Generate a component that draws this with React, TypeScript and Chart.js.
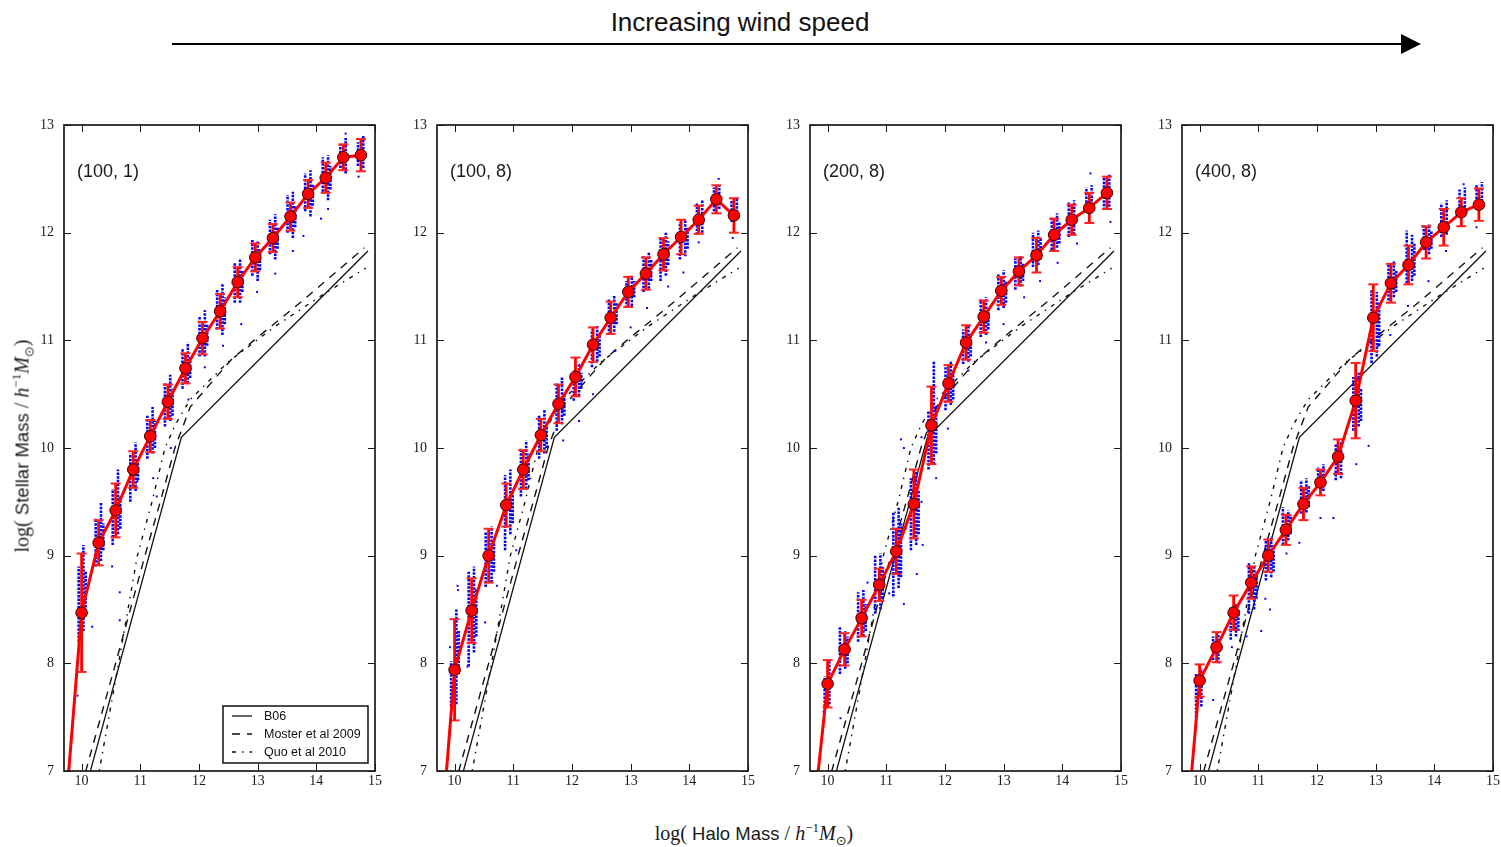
import React, { useEffect, useRef } from "react";
import { Chart, registerables } from "chart.js";

Chart.register(...registerables);

// ---------------- DATA ----------------
const massBins = [9.70, 10.00, 10.29, 10.58, 10.88, 11.17, 11.47, 11.77, 12.06, 12.36, 12.66, 12.96, 13.26, 13.56, 13.86, 14.16, 14.46, 14.76];

const panelLabels = ["(100, 1)", "(100, 8)", "(200, 8)", "(400, 8)"];

const stellar_100_1 = [6.46, 8.47, 9.12, 9.42, 9.80, 10.11, 10.43, 10.74, 11.02, 11.27, 11.54, 11.77, 11.95, 12.15, 12.36, 12.51, 12.70, 12.72];
const err_100_1 = [0, 0.55, 0.21, 0.25, 0.17, 0.15, 0.16, 0.14, 0.15, 0.16, 0.14, 0.13, 0.13, 0.13, 0.13, 0.14, 0.12, 0.15];

const stellar_100_8 = [5.90, 7.94, 8.49, 9.00, 9.47, 9.80, 10.12, 10.41, 10.66, 10.96, 11.21, 11.45, 11.62, 11.80, 11.96, 12.12, 12.31, 12.16];
const err_100_8 = [0, 0.47, 0.30, 0.25, 0.20, 0.18, 0.15, 0.18, 0.18, 0.16, 0.15, 0.14, 0.15, 0.15, 0.16, 0.13, 0.13, 0.16];

const stellar_200_8 = [6.29, 7.81, 8.13, 8.42, 8.73, 9.04, 9.48, 10.21, 10.60, 10.98, 11.22, 11.46, 11.64, 11.79, 11.98, 12.12, 12.23, 12.37];
const err_200_8 = [0, 0.22, 0.15, 0.17, 0.15, 0.21, 0.32, 0.36, 0.17, 0.16, 0.15, 0.13, 0.13, 0.16, 0.15, 0.14, 0.14, 0.15];

const stellar_400_8 = [5.96, 7.84, 8.15, 8.47, 8.75, 9.00, 9.24, 9.48, 9.68, 9.92, 10.44, 11.21, 11.53, 11.70, 11.91, 12.05, 12.19, 12.26];
const err_400_8 = [0, 0.15, 0.14, 0.16, 0.15, 0.15, 0.14, 0.15, 0.12, 0.16, 0.35, 0.31, 0.18, 0.18, 0.15, 0.17, 0.13, 0.15];

// individual galaxies: vertical runs [haloMass, low, high]
const galaxies_100_1 = [
  [9.95, 8.20, 8.90], [10.03, 8.30, 9.10], [10.07, 8.45, 8.85],
  [10.24, 8.90, 9.35], [10.33, 8.95, 9.50], [10.37, 9.05, 9.30],
  [10.53, 9.10, 9.62], [10.62, 9.20, 9.80], [10.66, 9.25, 9.55],
  [10.83, 9.50, 9.95], [10.92, 9.60, 10.05], [10.96, 9.70, 9.90],
  [11.12, 9.90, 10.30], [11.21, 9.95, 10.38], [11.25, 10.00, 10.25],
  [11.42, 10.20, 10.60], [11.51, 10.25, 10.68], [11.55, 10.30, 10.55],
  [11.72, 10.55, 10.92], [11.81, 10.60, 10.98], [11.85, 10.65, 10.85],
  [12.01, 10.85, 11.22], [12.10, 10.85, 11.28], [12.14, 10.95, 11.15],
  [12.31, 11.10, 11.47], [12.40, 11.05, 11.52], [12.44, 11.15, 11.40],
  [12.61, 11.35, 11.72], [12.70, 11.35, 11.75], [12.74, 11.45, 11.65],
  [12.91, 11.60, 11.94], [13.00, 11.55, 11.92], [13.04, 11.65, 11.85],
  [13.21, 11.80, 12.12], [13.30, 11.75, 12.17], [13.34, 11.85, 12.05],
  [13.51, 12.00, 12.35], [13.60, 11.95, 12.38], [13.64, 12.05, 12.25],
  [13.81, 12.20, 12.55], [13.90, 12.15, 12.58], [13.94, 12.25, 12.45],
  [14.11, 12.38, 12.70], [14.20, 12.30, 12.72], [14.24, 12.40, 12.62],
  [14.41, 12.60, 12.82], [14.50, 12.55, 12.88],
  [14.71, 12.62, 12.84], [14.80, 12.60, 12.90],
];
const outliers_100_1 = [
  [9.93, 7.70], [10.18, 8.34], [10.65, 8.66], [10.65, 8.40], [10.52, 8.90], [10.95, 9.69], [11.22, 9.72],
  [11.28, 9.55], [11.52, 10.00], [11.82, 10.45], [12.10, 10.75], [12.41, 10.95], [12.72, 11.15],
  [12.99, 11.45], [13.30, 11.62], [13.60, 11.83], [13.78, 11.97], [14.08, 12.13], [14.20, 12.22],
  [14.50, 12.92], [14.72, 12.52],
];

const galaxies_100_8 = [
  [9.94, 7.60, 8.02], [10.03, 7.62, 8.50], [10.07, 7.90, 8.30],
  [10.24, 7.97, 8.85], [10.33, 8.10, 8.90], [10.37, 8.25, 8.70],
  [10.53, 8.71, 9.22], [10.63, 8.75, 9.27], [10.67, 8.85, 9.15],
  [10.86, 9.05, 9.75], [10.95, 9.20, 9.80], [10.99, 9.30, 9.60],
  [11.13, 9.55, 10.00], [11.22, 9.62, 10.07], [11.26, 9.70, 9.95],
  [11.44, 9.90, 10.30], [11.53, 9.95, 10.35], [11.57, 10.00, 10.20],
  [11.74, 10.16, 10.60], [11.83, 10.22, 10.66], [11.87, 10.30, 10.50],
  [12.03, 10.44, 10.72], [12.12, 10.48, 10.78], [12.16, 10.55, 10.70],
  [12.34, 10.75, 11.10], [12.43, 10.80, 11.14], [12.47, 10.85, 11.05],
  [12.63, 11.05, 11.38], [12.72, 11.08, 11.42], [12.76, 11.15, 11.35],
  [12.93, 11.30, 11.55], [13.02, 11.32, 11.60], [13.06, 11.40, 11.55],
  [13.22, 11.45, 11.78], [13.31, 11.48, 11.82], [13.35, 11.55, 11.75],
  [13.51, 11.55, 11.95], [13.60, 11.60, 12.00], [13.64, 11.70, 11.92],
  [13.84, 11.75, 12.10], [13.93, 11.78, 12.12], [13.97, 11.85, 12.05],
  [14.13, 11.98, 12.27], [14.22, 12.00, 12.30],
  [14.42, 12.20, 12.42], [14.51, 12.22, 12.44],
  [14.72, 12.10, 12.30], [14.81, 12.12, 12.33],
];
const outliers_100_8 = [
  [9.92, 8.15], [10.05, 8.72], [10.06, 8.68], [10.22, 7.97], [10.52, 8.38], [10.72, 8.72], [11.05, 9.05],
  [11.53, 10.10], [11.85, 10.07], [12.12, 10.25], [12.36, 10.50], [12.72, 10.90], [13.00, 11.12],
  [13.28, 11.30], [13.64, 11.50], [13.90, 11.63], [14.16, 11.91], [14.50, 12.50], [14.74, 11.95],
];

const galaxies_200_8 = [
  [9.95, 7.60, 7.88], [10.03, 7.62, 8.02],
  [10.21, 7.90, 8.34], [10.30, 7.95, 8.30], [10.34, 8.00, 8.25],
  [10.52, 8.20, 8.66], [10.61, 8.25, 8.68], [10.65, 8.30, 8.55],
  [10.81, 8.46, 9.00], [10.90, 8.50, 9.02], [10.94, 8.60, 8.90],
  [11.12, 8.62, 9.40], [11.21, 8.70, 9.45], [11.25, 8.80, 9.30],
  [11.42, 9.05, 9.72], [11.51, 9.10, 9.78], [11.55, 9.20, 9.60],
  [11.72, 9.80, 10.35], [11.81, 9.85, 10.80], [11.85, 9.95, 10.40],
  [12.01, 10.35, 10.75], [12.10, 10.40, 10.80], [12.14, 10.45, 10.70],
  [12.31, 10.78, 11.10], [12.40, 10.80, 11.14], [12.44, 10.85, 11.05],
  [12.61, 11.03, 11.38], [12.70, 11.05, 11.40], [12.74, 11.10, 11.30],
  [12.91, 11.28, 11.62], [13.00, 11.30, 11.65], [13.04, 11.35, 11.55],
  [13.20, 11.47, 11.76], [13.29, 11.50, 11.78], [13.33, 11.55, 11.72],
  [13.50, 11.68, 12.00], [13.59, 11.70, 12.02], [13.63, 11.75, 11.95],
  [13.82, 11.84, 12.15], [13.91, 11.86, 12.18], [13.95, 11.90, 12.10],
  [14.11, 11.96, 12.28], [14.20, 11.98, 12.30],
  [14.41, 12.21, 12.42], [14.50, 12.22, 12.44],
  [14.71, 12.21, 12.52], [14.80, 12.24, 12.55],
];
const outliers_200_8 = [
  [9.93, 7.55], [10.22, 7.49], [10.68, 8.75], [11.05, 8.65], [11.30, 8.55], [11.33, 9.25], [11.52, 8.83],
  [11.60, 9.50], [11.62, 9.10], [11.60, 10.10], [11.25, 10.08], [11.30, 10.00], [11.85, 9.72],
  [12.05, 10.18], [12.40, 10.72], [12.70, 10.98], [13.00, 11.15], [13.35, 11.40], [13.62, 11.55],
  [13.92, 11.72], [14.25, 11.90], [14.48, 12.55], [14.82, 12.10],
];

const galaxies_400_8 = [
  [9.94, 7.50, 7.91], [10.03, 7.60, 7.95],
  [10.23, 8.03, 8.25], [10.32, 8.00, 8.28],
  [10.53, 8.22, 8.53], [10.62, 8.25, 8.55], [10.66, 8.30, 8.50],
  [10.84, 8.46, 8.93], [10.93, 8.50, 8.90], [10.97, 8.60, 8.85],
  [11.13, 8.77, 9.14], [11.22, 8.80, 9.18], [11.26, 8.85, 9.10],
  [11.42, 9.10, 9.45], [11.51, 9.14, 9.42], [11.55, 9.20, 9.38],
  [11.73, 9.39, 9.70], [11.82, 9.40, 9.72], [11.86, 9.45, 9.65],
  [12.02, 9.64, 9.82], [12.11, 9.60, 9.85],
  [12.32, 9.70, 10.04], [12.41, 9.72, 10.06],
  [12.62, 10.16, 10.66], [12.71, 10.20, 10.70], [12.75, 10.25, 10.55],
  [12.93, 10.79, 11.47], [13.02, 10.85, 11.45], [13.06, 10.95, 11.35],
  [13.22, 11.37, 11.71], [13.31, 11.40, 11.74], [13.35, 11.45, 11.65],
  [13.53, 11.53, 12.02], [13.62, 11.55, 11.98], [13.66, 11.60, 11.90],
  [13.82, 11.84, 12.08], [13.91, 11.80, 12.08], [13.95, 11.85, 12.02],
  [14.12, 11.96, 12.27], [14.21, 11.98, 12.30],
  [14.43, 12.21, 12.40], [14.52, 12.20, 12.42],
  [14.72, 12.21, 12.45], [14.81, 12.22, 12.47],
];
const outliers_400_8 = [
  [10.23, 7.66], [10.55, 8.15], [10.80, 8.25], [11.05, 8.30], [11.12, 8.60], [11.20, 8.50], [11.48, 9.02],
  [11.70, 9.12], [12.06, 9.35], [12.28, 9.35], [12.67, 9.85], [12.88, 10.02], [13.05, 10.95],
  [13.25, 11.05], [13.55, 11.32], [13.90, 11.55], [14.20, 11.83], [14.50, 12.45], [14.72, 12.05],
];

// reference relations
const b06Mass = [10.00, 11.70, 14.88];
const b06Stellar = [6.70, 10.10, 11.83];
const mosterMass = [10.00, 10.58, 11.08, 11.34, 11.59, 11.85, 12.20, 12.55, 12.98, 13.77, 14.82];
const mosterStellar = [6.86, 8.00, 9.00, 9.50, 10.00, 10.38, 10.60, 10.82, 11.02, 11.37, 11.86];
const guoMass = [10.10, 10.30, 10.63, 10.95, 11.20, 11.42, 11.60, 11.85, 12.50, 13.30, 14.10, 14.84];
const guoStellar = [6.60, 7.00, 8.00, 9.00, 9.50, 10.00, 10.22, 10.45, 10.80, 11.13, 11.42, 11.67];

const refLabels = ["B06", "Moster et al 2009", "Quo et al 2010"];

// ---------------- LAYOUT ----------------
const PLOT_TOP = 125;
const PLOT_H = 646;
const PLOT_W = 311;
const PLOT_LEFTS = [64, 437, 810, 1182];
const PAD_L = 45;
const PAD_R = 16;
const PAD_T = 22;
const PAD_B = 26;

const SERIF = '"Liberation Serif", "DejaVu Serif", serif';
const SANS = '"Liberation Sans", Arial, sans-serif';

const panels = [
  { label: panelLabels[0], y: stellar_100_1, e: err_100_1, cols: galaxies_100_1, dots: outliers_100_1, legend: true },
  { label: panelLabels[1], y: stellar_100_8, e: err_100_8, cols: galaxies_100_8, dots: outliers_100_8, legend: false },
  { label: panelLabels[2], y: stellar_200_8, e: err_200_8, cols: galaxies_200_8, dots: outliers_200_8, legend: false },
  { label: panelLabels[3], y: stellar_400_8, e: err_400_8, cols: galaxies_400_8, dots: outliers_400_8, legend: false },
];

function pairs(xs: number[], ys: number[]) {
  return xs.map((x, i) => ({ x, y: ys[i] }));
}

function columnSegments(cols: number[][]) {
  const out: any[] = [];
  cols.forEach(([x, lo, hi]) => {
    out.push({ x, y: lo }, { x, y: hi }, { x, y: null });
  });
  return out;
}

function errorSegments(ys: number[], es: number[]) {
  const out: any[] = [];
  massBins.forEach((x, i) => {
    if (es[i] > 0) out.push({ x, y: ys[i] - es[i] }, { x, y: ys[i] + es[i] }, { x, y: null });
  });
  return out;
}

function makeFramePlugin(label: string, showLegend: boolean) {
  return {
    id: "frameAndLegend",
    afterDatasetsDraw(chart: any) {
      const { ctx, chartArea: a, scales } = chart;
      ctx.save();
      ctx.setLineDash([]);
      ctx.strokeStyle = "#1a1a1a";
      ctx.lineWidth = 1;
      ctx.beginPath();
      const TL = 7;
      scales.x.ticks.forEach((t: any) => {
        const px = Math.round(scales.x.getPixelForValue(t.value)) + 0.5;
        ctx.moveTo(px, a.bottom);
        ctx.lineTo(px, a.bottom - TL);
        ctx.moveTo(px, a.top);
        ctx.lineTo(px, a.top + TL);
      });
      scales.y.ticks.forEach((t: any) => {
        const py = Math.round(scales.y.getPixelForValue(t.value)) + 0.5;
        ctx.moveTo(a.left, py);
        ctx.lineTo(a.left + TL, py);
        ctx.moveTo(a.right, py);
        ctx.lineTo(a.right - TL, py);
      });
      ctx.stroke();
      ctx.lineWidth = 1.7;
      ctx.strokeRect(a.left, a.top, a.right - a.left, a.bottom - a.top);

      ctx.fillStyle = "#1a1a1a";
      ctx.font = `18px ${SANS}`;
      ctx.textBaseline = "middle";
      ctx.textAlign = "left";
      ctx.fillText(label, a.left + 13, a.top + 47);

      if (showLegend) {
        const bw = 145;
        const bh = 57;
        const bx = a.right - 7 - bw;
        const by = a.bottom - 8 - bh;
        ctx.fillStyle = "#fff";
        ctx.fillRect(bx, by, bw, bh);
        ctx.lineWidth = 1.5;
        ctx.strokeStyle = "#111";
        ctx.strokeRect(bx, by, bw, bh);
        const refs = chart.data.datasets.filter((d: any) => d.isRef);
        ctx.font = `12.5px ${SANS}`;
        refs.forEach((d: any, k: number) => {
          const yy = by + 10 + k * 18;
          ctx.beginPath();
          ctx.setLineDash(d.borderDash || []);
          ctx.lineWidth = d.borderWidth;
          ctx.strokeStyle = d.borderColor;
          ctx.moveTo(bx + 9, yy);
          ctx.lineTo(bx + 29, yy);
          ctx.stroke();
          ctx.setLineDash([]);
          ctx.fillStyle = "#111";
          ctx.fillText(d.label, bx + 41, yy + 0.5);
        });
      }
      ctx.restore();
    },
  };
}

function Panel({ idx }: { idx: number }) {
  const ref = useRef<HTMLCanvasElement | null>(null);
  const p = panels[idx];
  useEffect(() => {
    if (!ref.current) return;
    const tickFont = { family: SERIF, size: 14 };
    const chart = new Chart(ref.current, {
      type: "line",
      data: {
        datasets: [
          {
            label: "mean",
            data: pairs(massBins, p.y),
            borderColor: "#ff0000",
            borderWidth: 3,
            pointRadius: 5.8,
            pointBackgroundColor: "#ff0000",
            pointBorderColor: "#3a0000",
            pointBorderWidth: 1,
            order: 0,
          },
          {
            label: "error",
            data: errorSegments(p.y, p.e),
            borderColor: "#ff0000",
            borderWidth: 2.8,
            spanGaps: false,
            pointStyle: "line",
            pointRadius: 5,
            pointBorderColor: "#ff2020",
            pointBorderWidth: 2,
            order: 1,
          },
          {
            label: "galaxies",
            data: p.dots.map(([x, y]) => ({ x, y })),
            showLine: false,
            pointStyle: "rect",
            pointRadius: 1.4,
            pointBackgroundColor: "#0000ff",
            pointBorderWidth: 0,
            order: 2,
          },
          {
            label: "galaxy runs",
            data: columnSegments(p.cols),
            borderColor: "#0000ff",
            borderWidth: 2.6,
            borderDash: [2.5, 1.2],
            spanGaps: false,
            pointRadius: 0,
            order: 3,
          },
          {
            label: refLabels[0],
            isRef: true,
            data: pairs(b06Mass, b06Stellar),
            borderColor: "#111",
            borderWidth: 1.3,
            pointRadius: 0,
            order: 4,
          },
          {
            label: refLabels[1],
            isRef: true,
            data: pairs(mosterMass, mosterStellar),
            borderColor: "#111",
            borderWidth: 1.4,
            borderDash: [8, 7],
            pointRadius: 0,
            order: 5,
          },
          {
            label: refLabels[2],
            isRef: true,
            data: pairs(guoMass, guoStellar),
            borderColor: "#111",
            borderWidth: 1.4,
            borderDash: [4, 6, 1.5, 6],
            pointRadius: 0,
            order: 6,
          },
        ] as any,
      },
      options: {
        animation: false,
        responsive: false,
        events: [],
        layout: { padding: { left: 0, right: PAD_R, top: PAD_T, bottom: 0 } },
        plugins: { legend: { display: false }, tooltip: { enabled: false } },
        scales: {
          x: {
            type: "linear",
            min: 9.7,
            max: 15,
            ticks: {
              stepSize: 1,
              includeBounds: false,
              padding: 2,
              font: tickFont,
              color: "#1a1a1a",
              maxRotation: 0,
              autoSkip: false,
              callback: (v: any) => String(v),
            },
            grid: { display: false, drawTicks: false },
            border: { display: false },
            afterFit: (s: any) => {
              s.height = PAD_B;
            },
          },
          y: {
            type: "linear",
            min: 7,
            max: 13,
            ticks: {
              stepSize: 1,
              padding: 10,
              font: tickFont,
              color: "#1a1a1a",
              autoSkip: false,
              callback: (v: any) => String(v),
            },
            grid: { display: false, drawTicks: false },
            border: { display: false },
            afterFit: (s: any) => {
              s.width = PAD_L;
            },
          },
        },
      } as any,
      plugins: [makeFramePlugin(p.label, p.legend)],
    });
    return () => chart.destroy();
  }, [idx]);

  const W = PAD_L + PLOT_W + PAD_R;
  const H = PAD_T + PLOT_H + PAD_B;
  return (
    <div style={{ position: "absolute", left: PLOT_LEFTS[idx] - PAD_L, top: PLOT_TOP - PAD_T, width: W, height: H }}>
      <canvas ref={ref} width={W} height={H} style={{ width: W, height: H, display: "block" }} />
    </div>
  );
}

function AxisTitle({ name }: { name: string }) {
  return (
    <span style={{ color: "#1a1a1a", lineHeight: 1 }}>
      <span style={{ fontFamily: SERIF, fontSize: 20 }}>log(</span>
      <span style={{ fontFamily: SANS, fontSize: 18.5 }}> {name} </span>
      <span style={{ fontFamily: SERIF, fontSize: 20 }}>
        / <i>h</i>
        <sup style={{ fontSize: 13, lineHeight: 0 }}>−1</sup>
        <i>M</i>
        <sub style={{ fontSize: 13, lineHeight: 0, fontFamily: '"DejaVu Sans", sans-serif' }}>⊙</sub>)
      </span>
    </span>
  );
}

export default function App() {
  return (
    <div style={{ position: "absolute", left: 0, top: 0, width: 1501, height: 847, background: "#fff", overflow: "hidden" }}>
      <div
        style={{
          position: "absolute",
          left: 540,
          width: 400,
          top: 6,
          textAlign: "center",
          fontFamily: SANS,
          fontSize: 26,
          lineHeight: "32px",
          color: "#111",
        }}
      >
        Increasing wind speed
      </div>
      <svg style={{ position: "absolute", left: 0, top: 0 }} width={1501} height={70}>
        <line x1={172} y1={44} x2={1404} y2={44} stroke="#000" strokeWidth={2} />
        <polygon points="1401,34 1421,44 1401,54" fill="#000" />
      </svg>
      {panels.map((_, i) => (
        <Panel key={i} idx={i} />
      ))}
      <div
        style={{
          position: "absolute",
          left: 22,
          top: 446,
          transform: "translate(-50%, -50%) rotate(-90deg)",
          whiteSpace: "nowrap",
        }}
      >
        <AxisTitle name="Stellar Mass" />
      </div>
      <div
        style={{
          position: "absolute",
          left: 754,
          top: 833,
          transform: "translate(-50%, -50%)",
          whiteSpace: "nowrap",
        }}
      >
        <AxisTitle name="Halo Mass" />
      </div>
    </div>
  );
}
